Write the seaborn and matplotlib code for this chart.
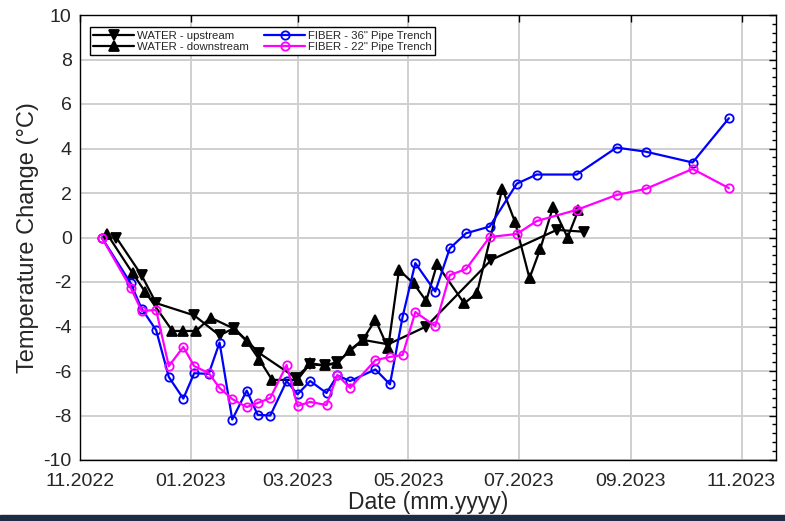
import matplotlib
matplotlib.use("Agg")
import matplotlib.pyplot as plt
import matplotlib.dates as mdates
from matplotlib.ticker import MultipleLocator
from matplotlib.patches import Rectangle
import numpy as np
import pandas as pd
import seaborn as sns

# ---- data ----
fiber_dates = ["2022-11-13", "2022-11-29", "2022-12-05", "2022-12-13", "2022-12-20",
               "2022-12-28", "2023-01-03", "2023-01-11", "2023-01-17", "2023-01-24",
               "2023-02-01", "2023-02-07", "2023-02-14", "2023-02-23", "2023-03-01",
               "2023-03-08", "2023-03-17", "2023-03-23", "2023-03-30", "2023-04-13",
               "2023-04-21", "2023-04-28", "2023-05-05", "2023-05-16", "2023-05-24",
               "2023-06-02", "2023-06-15", "2023-06-30", "2023-07-11", "2023-08-02",
               "2023-08-24", "2023-09-09", "2023-10-05", "2023-10-25"]
fiber36 = [0.0, -2.06, -3.2, -4.16, -6.27, -7.24, -6.1, -6.13, -4.72, -8.18,
           -6.88, -7.97, -8.0, -6.45, -7.05, -6.45, -6.99, -6.2, -6.45, -5.93,
           -6.6, -3.56, -1.15, -2.43, -0.49, 0.19, 0.49, 2.42, 2.83, 2.83,
           4.04, 3.86, 3.37, 5.36]
fiber22 = [0.0, -2.27, -3.30, -3.26, -5.78, -4.92, -5.78, -6.09, -6.76, -7.26,
           -7.62, -7.44, -7.21, -5.73, -7.57, -7.39, -7.53, -6.18, -6.76, -5.51,
           -5.37, -5.28, -3.35, -3.98, -1.69, -1.42, 0.02, 0.16, 0.74, 1.24,
           1.91, 2.18, 3.08, 2.22]

up_dates = ["2022-11-21", "2022-12-05", "2022-12-13", "2023-01-03", "2023-01-17",
            "2023-01-25", "2023-02-08", "2023-02-28", "2023-03-08", "2023-03-16",
            "2023-03-23", "2023-04-06", "2023-04-20", "2023-05-11", "2023-06-16",
            "2023-07-22", "2023-08-06"]
water_up = [0.0, -1.7, -2.95, -3.5, -4.4, -4.07, -5.2, -6.3, -5.7, -5.75,
            -5.6, -4.6, -4.8, -4.0, -1.0, 0.34, 0.26]

down_dates = ["2022-11-16", "2022-11-30", "2022-12-07", "2022-12-22", "2022-12-28",
              "2023-01-04", "2023-01-12", "2023-01-25", "2023-02-01", "2023-02-08",
              "2023-02-15", "2023-03-01", "2023-03-08", "2023-03-16", "2023-03-23",
              "2023-03-30", "2023-04-06", "2023-04-13", "2023-04-20", "2023-04-26",
              "2023-05-04", "2023-05-11", "2023-05-17", "2023-06-01", "2023-06-08",
              "2023-06-22", "2023-06-29", "2023-07-07", "2023-07-13", "2023-07-20",
              "2023-07-28", "2023-08-03"]
water_down = [0.15, -1.6, -2.45, -4.2, -4.2, -4.2, -3.6, -4.1, -4.66, -5.5,
              -6.4, -6.4, -5.65, -5.75, -5.65, -5.05, -4.6, -3.7, -4.97, -1.46,
              -2.06, -2.85, -1.2, -2.96, -2.5, 2.2, 0.7, -1.83, -0.5, 1.38,
              0.0, 1.24]

x_ticks = ["2022-11-01", "2023-01-01", "2023-03-01", "2023-05-01",
           "2023-07-01", "2023-09-01", "2023-11-01"]

sns.set_style("whitegrid")
plt.rcParams["font.family"] = ["Liberation Sans", "DejaVu Sans"]
plt.rcParams["axes.unicode_minus"] = False
txt = "#262626"

fig = plt.figure(figsize=(7.85, 5.21), dpi=100)
ax = fig.add_axes([80 / 785, 1 - 460 / 521, 696 / 785, 445 / 521])

series = [
    ("WATER - upstream", up_dates, water_up, "black", "v", "black"),
    ("WATER - downstream", down_dates, water_down, "black", "^", "black"),
    ('FIBER - 36" Pipe Trench', fiber_dates, fiber36, "#0000ff", "o", "none"),
    ('FIBER - 22" Pipe Trench', fiber_dates, fiber22, "#ff00ff", "o", "none"),
]
for label, d, v, c, m, fc in series:
    df = pd.DataFrame({"date": pd.to_datetime(d), "val": v})
    sns.lineplot(data=df, x="date", y="val", ax=ax, color=c, marker=m,
                 markersize=6.5 if m != "o" else 6, markerfacecolor=fc,
                 markeredgecolor=c, markeredgewidth=1.3, linewidth=1.6,
                 label=label, estimator=None, sort=False)

ax.set_xlim(pd.Timestamp("2022-11-01"), pd.Timestamp("2023-11-20"))
ax.set_ylim(-10, 10)
ax.set_xticks(pd.to_datetime(x_ticks))
ax.xaxis.set_major_formatter(mdates.DateFormatter("%m.%Y"))
ax.yaxis.set_major_locator(MultipleLocator(2))
ax.yaxis.set_minor_locator(MultipleLocator(0.4))

ax.grid(True, which="major", color="#cfcfcf", linewidth=1.4)
ax.grid(False, which="minor")
for s in ax.spines.values():
    s.set_color("black")
    s.set_linewidth(1.0)
ax.tick_params(which="both", direction="in", top=True, right=True,
               labelsize=14, colors="black", labelcolor=txt)
ax.tick_params(which="major", length=5, width=1)
ax.tick_params(which="minor", length=3, width=1)
ax.tick_params(axis="x", which="minor", bottom=False, top=False)
ax.tick_params(axis="x", which="major", pad=9)
ax.tick_params(axis="y", which="major", pad=6)

ax.set_xlabel("Date (mm.yyyy)", fontsize=16.5, labelpad=1, color=txt)
ax.set_ylabel("Temperature Change (°C)", fontsize=17, labelpad=3, color=txt)

leg = ax.legend(loc="upper left", ncol=2, bbox_to_anchor=(0.006, 0.985),
                fontsize=8.2, frameon=True, fancybox=False, edgecolor="black",
                framealpha=1, handlelength=3.6, handletextpad=0.2,
                columnspacing=1.4, borderpad=0.3, labelspacing=0.1)
leg.get_frame().set_linewidth(1.0)
for t in leg.get_texts():
    t.set_color(txt)

fig.patches.append(Rectangle((0, 0), 1, 6 / 521, transform=fig.transFigure,
                             color="#1e2b45", zorder=0))

fig.savefig("out.png", dpi=100)
